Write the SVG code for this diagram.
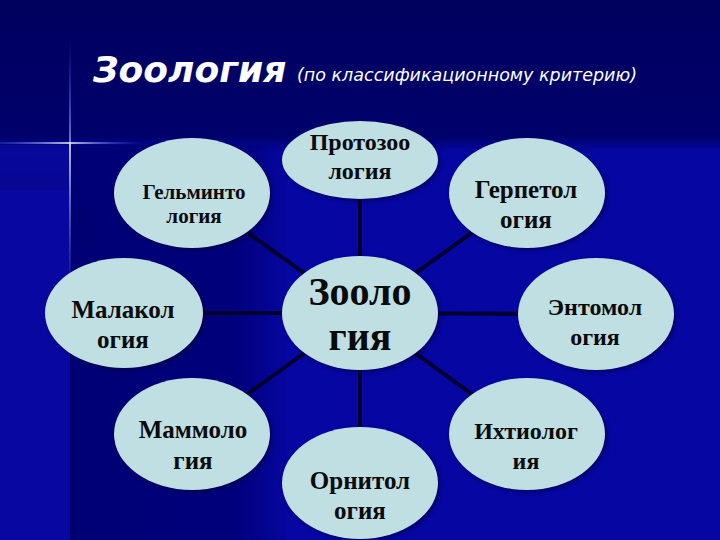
<svg xmlns="http://www.w3.org/2000/svg" width="720" height="540" viewBox="0 0 720 540">
  <defs>
    <linearGradient id="topBand" x1="0" y1="0" x2="0" y2="1">
      <stop offset="0" stop-color="#00005e"/>
      <stop offset="0.9" stop-color="#00006c"/>
      <stop offset="1" stop-color="#000070" stop-opacity="0"/>
    </linearGradient>
    <linearGradient id="darkPanel" x1="0" y1="0" x2="1" y2="0">
      <stop offset="0" stop-color="#000074"/>
      <stop offset="0.75" stop-color="#00007c"/>
      <stop offset="1" stop-color="#00007c" stop-opacity="0"/>
    </linearGradient>
    <linearGradient id="panelTop" x1="0" y1="0" x2="0" y2="1">
      <stop offset="0" stop-color="#000070" stop-opacity="0"/>
      <stop offset="1" stop-color="#000070"/>
    </linearGradient>
    <linearGradient id="vGlow" gradientUnits="userSpaceOnUse" x1="0" y1="40" x2="0" y2="300">
      <stop offset="0" stop-color="#4a6cff" stop-opacity="0"/>
      <stop offset="0.4" stop-color="#9fb4ff" stop-opacity="0.9"/>
      <stop offset="0.4" stop-color="#ffffff"/>
      <stop offset="0.5" stop-color="#cfd9ff" stop-opacity="0.9"/>
      <stop offset="1" stop-color="#4a6cff" stop-opacity="0"/>
    </linearGradient>
    <linearGradient id="hGlow" gradientUnits="userSpaceOnUse" x1="0" y1="0" x2="140" y2="0">
      <stop offset="0" stop-color="#4a6cff" stop-opacity="0.3"/>
      <stop offset="0.5" stop-color="#ffffff"/>
      <stop offset="1" stop-color="#4a6cff" stop-opacity="0"/>
    </linearGradient>
    <filter id="blur" x="-50%" y="-50%" width="200%" height="200%">
      <feGaussianBlur stdDeviation="2"/>
    </filter>
    <filter id="shadow" x="-20%" y="-20%" width="140%" height="140%">
      <feGaussianBlur stdDeviation="2"/>
    </filter>
  </defs>
  <style>
    .node ellipse.fill { fill: #bfdfe3; }
    .node ellipse.sh { fill: #00002e; opacity: 0.55; filter: url(#shadow); }
    .node text { font-family: "Liberation Serif", "Times New Roman", serif; font-weight: bold; fill: #0a0a0a; text-anchor: middle; }
    .conn line { stroke: #00002e; stroke-width: 4; stroke-linecap: round; }
    .title { font-family: "DejaVu Sans", Verdana, sans-serif; fill: #ffffff; }
  </style>

  <!-- background -->
  <rect x="0" y="0" width="720" height="540" fill="#0606a2"/>
  <rect x="0" y="0" width="720" height="152" fill="url(#topBand)"/>
  <rect x="70" y="145" width="220" height="395" fill="url(#darkPanel)"/>
  <rect x="0" y="130" width="70" height="60" fill="url(#panelTop)" opacity="0.6"/>
  <rect x="0" y="145" width="70" height="395" fill="#0a0a9e" opacity="0.6"/>

  <!-- star glow -->
  <g id="star">
    <line x1="70" y1="40" x2="70" y2="300" stroke="url(#vGlow)" stroke-width="5" filter="url(#blur)" opacity="0.8"/>
    <line x1="70" y1="40" x2="70" y2="300" stroke="url(#vGlow)" stroke-width="1.5"/>
    <line x1="0" y1="143" x2="140" y2="143" stroke="url(#hGlow)" stroke-width="5" filter="url(#blur)" opacity="0.8"/>
    <line x1="0" y1="143" x2="140" y2="143" stroke="url(#hGlow)" stroke-width="1.5"/>
  </g>

  <!-- title -->
  <g id="title">
    <text class="title" x="93" y="82" font-size="36" font-weight="bold" font-style="italic">Зоология</text>
    <text class="title" x="297" y="81" font-size="18" font-style="italic" textLength="340" lengthAdjust="spacingAndGlyphs">(по классификационному критерию)</text>
  </g>

  <!-- connectors -->
  <g id="connectors" class="conn">
    <line x1="360" y1="160" x2="360" y2="313"/>
    <line x1="192" y1="193" x2="360" y2="313"/>
    <line x1="124" y1="313" x2="360" y2="313"/>
    <line x1="192" y1="434" x2="360" y2="313"/>
    <line x1="360" y1="483" x2="360" y2="313"/>
    <line x1="527" y1="434" x2="360" y2="313"/>
    <line x1="596" y1="314" x2="360" y2="313"/>
    <line x1="527" y1="193" x2="360" y2="313"/>
  </g>

  <!-- nodes -->
  <g id="node-protozoo" class="node">
    <ellipse class="sh" cx="362" cy="162" rx="78" ry="39"/>
    <ellipse class="fill" cx="360" cy="160" rx="78" ry="39"/>
    <text x="360" y="150" font-size="24">Протозоо</text>
    <text x="360" y="179" font-size="24">логия</text>
  </g>

  <g id="node-gelminto" class="node">
    <ellipse class="sh" cx="194" cy="195" rx="78" ry="55"/>
    <ellipse class="fill" cx="192" cy="193" rx="78" ry="55"/>
    <text x="194" y="199" font-size="21">Гельминто</text>
    <text x="194" y="223" font-size="21">логия</text>
  </g>

  <g id="node-gerpetol" class="node">
    <ellipse class="sh" cx="529" cy="195" rx="78" ry="55"/>
    <ellipse class="fill" cx="527" cy="193" rx="78" ry="55"/>
    <text x="526" y="198" font-size="25">Герпетол</text>
    <text x="526" y="228" font-size="25">огия</text>
  </g>

  <g id="node-malakol" class="node">
    <ellipse class="sh" cx="126" cy="315" rx="79" ry="55"/>
    <ellipse class="fill" cx="124" cy="313" rx="79" ry="55"/>
    <text x="123" y="318" font-size="25">Малакол</text>
    <text x="123" y="348" font-size="25">огия</text>
  </g>

  <g id="node-zoology" class="node">
    <ellipse class="sh" cx="362" cy="315" rx="78" ry="57"/>
    <ellipse class="fill" cx="360" cy="313" rx="78" ry="57"/>
    <text x="360" y="305" font-size="40">Зооло</text>
    <text x="360" y="350" font-size="40">гия</text>
  </g>

  <g id="node-entomol" class="node">
    <ellipse class="sh" cx="598" cy="316" rx="78" ry="56"/>
    <ellipse class="fill" cx="596" cy="314" rx="78" ry="56"/>
    <text x="595" y="315" font-size="24">Энтомол</text>
    <text x="595" y="345" font-size="24">огия</text>
  </g>

  <g id="node-mammolo" class="node">
    <ellipse class="sh" cx="194" cy="436" rx="78" ry="56"/>
    <ellipse class="fill" cx="192" cy="434" rx="78" ry="56"/>
    <text x="193" y="438" font-size="25">Маммоло</text>
    <text x="193" y="469" font-size="25">гия</text>
  </g>

  <g id="node-ornitol" class="node">
    <ellipse class="sh" cx="362" cy="485" rx="78" ry="56"/>
    <ellipse class="fill" cx="360" cy="483" rx="78" ry="56"/>
    <text x="360" y="489" font-size="25">Орнитол</text>
    <text x="360" y="519" font-size="25">огия</text>
  </g>

  <g id="node-ihtiolog" class="node">
    <ellipse class="sh" cx="529" cy="436" rx="78" ry="56"/>
    <ellipse class="fill" cx="527" cy="434" rx="78" ry="56"/>
    <text x="526" y="439" font-size="24">Ихтиолог</text>
    <text x="526" y="469" font-size="24">ия</text>
  </g>
</svg>
